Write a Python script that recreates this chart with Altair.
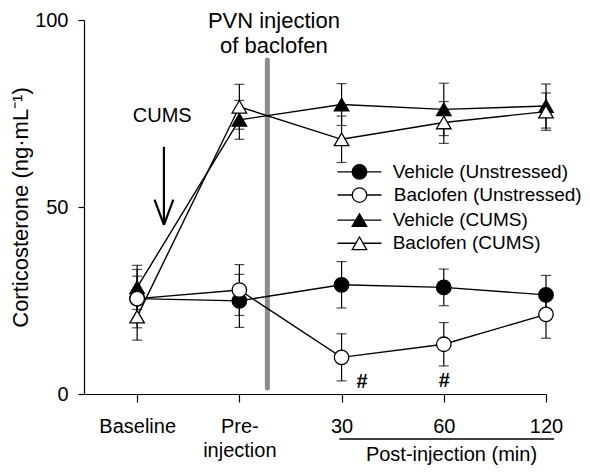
import altair as alt
import pandas as pd

# ---------------- data ----------------
series_names = ["Vehicle (Unstressed)", "Baclofen (Unstressed)", "Vehicle (CUMS)", "Baclofen (CUMS)"]
legend_labels = ["Vehicle (Unstressed)", "Baclofen (Unstressed)", "Vehicle (CUMS)", "Baclofen (CUMS)"]
x_labels = ["Baseline", "Pre-\ninjection", "30", "60", "120"]
time_pos = [0, 1, 2, 3, 4]

veh_un = [25.5, 24.9, 29.2, 28.5, 26.5]
veh_un_err = [6.0, 7.1, 6.2, 4.9, 5.2]
bac_un = [25.5, 27.8, 9.8, 13.3, 21.3]
bac_un_err = [7.8, 6.8, 6.3, 5.8, 6.4]
veh_cums = [28.5, 73.3, 77.4, 76.1, 77.0]
veh_cums_err = [5.9, 5.2, 5.6, 7.0, 5.9]
bac_cums = [20.7, 76.8, 68.1, 72.6, 75.5]
bac_cums_err = [6.3, 6.0, 6.2, 5.6, 5.0]

marker_shapes = ["circle", "circle", "triangle-up", "triangle-up"]
marker_fills = ["black", "white", "black", "white"]

# drawing order: filled symbols first, open symbols on top
draw_order = ["Vehicle (Unstressed)", "Vehicle (CUMS)", "Baclofen (Unstressed)", "Baclofen (CUMS)"]
values = {
    "Vehicle (Unstressed)": (veh_un, veh_un_err),
    "Baclofen (Unstressed)": (bac_un, bac_un_err),
    "Vehicle (CUMS)": (veh_cums, veh_cums_err),
    "Baclofen (CUMS)": (bac_cums, bac_cums_err),
}

rows, caps = [], []
for s in draw_order:
    ys, es = values[s]
    for t, v, e in zip(time_pos, ys, es):
        rows.append({"x": t, "y": v, "lo": v - e, "hi": v + e, "series": s})
        caps.append({"x": t, "y": v - e, "series": s})
        caps.append({"x": t, "y": v + e, "series": s})
df = pd.DataFrame(rows)
caps_df = pd.DataFrame(caps)

# legend table (drawn inside the plot)
legend_rows = [59.4, 53.2, 46.5, 40.3]
legend_df = pd.DataFrame({
    "series": series_names,
    "label": legend_labels,
    "y": legend_rows,
    "x0": [1.96] * 4,
    "x1": [2.39] * 4,
    "xm": [2.175] * 4,
    "xt": [2.50, 2.51, 2.50, 2.50],
})

# annotations
injection_line = pd.DataFrame({"x": [1.274], "y0": [1.6], "y1": [89.3]})
arrow_df = pd.DataFrame({
    "x": [0.262, 0.170, 0.354],
    "y": [66.1, 52.0, 52.0],
    "x2": [0.262, 0.262, 0.262],
    "y2": [45.2, 45.2, 45.2],
})
text_df = pd.DataFrame({
    "x": [0.245, 1.338, 1.338],
    "y": [72.7, 97.9, 91.2],
    "t": ["CUMS", "PVN injection", "of baclofen"],
    "size": [20, 22, 22],
})
hash_df = pd.DataFrame({"x": [2.20, 3.005], "y": [3.1, 3.5], "t": ["#", "#"]})
post_line = pd.DataFrame({"x": [1.978], "x2": [4.08], "y": [-12.0]})
post_text = pd.DataFrame({"x": [3.075], "y": [-17.9], "t": ["Post-injection (min)"]})

# ---------------- scales & axes ----------------
FONT = "Liberation Sans"


def label_literal(lab):
    parts = lab.split("\n")
    if len(parts) == 1:
        return "'" + parts[0] + "'"
    return "[" + ",".join("'" + p + "'" for p in parts) + "]"


label_expr = label_literal(x_labels[-1])
for pos, lab in reversed(list(zip(time_pos[:-1], x_labels[:-1]))):
    label_expr = f"datum.value == {pos} ? {label_literal(lab)} : ({label_expr})"

xs = alt.Scale(domain=[-0.52, 4], nice=False, zero=False)
ys = alt.Scale(domain=[0, 100], nice=False, zero=False)

xaxis = alt.Axis(values=time_pos, labelExpr=label_expr, title=None, grid=False,
                 tickSize=8, tickWidth=1.2, domainWidth=1.2, labelPadding=14,
                 labelFontSize=20, labelLineHeight=24, labelFont=FONT,
                 labelColor="black", tickColor="black", domainColor="black",
                 labelOverlap=False, labelFlush=False)
yaxis = alt.Axis(values=[0, 50, 100], title="Corticosterone (ng·mL⁻¹)", grid=False,
                 tickSize=6, tickWidth=1.2, domainWidth=1.2, labelPadding=10,
                 labelFontSize=20, labelFont=FONT, labelColor="black",
                 tickColor="black", domainColor="black", labelFlush=False,
                 titleFont=FONT, titleFontSize=22, titleFontWeight="normal",
                 titleColor="black", titlePadding=2)


def X(f):
    return alt.X(f"{f}:Q", scale=xs, axis=xaxis)


def Y(f):
    return alt.Y(f"{f}:Q", scale=ys, axis=yaxis)


shape_enc = alt.Shape("series:N", scale=alt.Scale(domain=series_names, range=marker_shapes), legend=None)
fill_enc = alt.Fill("series:N", scale=alt.Scale(domain=series_names, range=marker_fills), legend=None)

# ---------------- layers ----------------
lines = alt.Chart(df).mark_line(color="black", strokeWidth=1.4).encode(
    x=X("x"), y=Y("y"), detail="series:N")

err = alt.Chart(df).mark_rule(color="black", strokeWidth=1.2).encode(
    x=X("x"), y=Y("lo"), y2="hi:Q")

err_caps = alt.Chart(caps_df).mark_tick(color="black", orient="horizontal", size=10, thickness=1.2).encode(
    x=X("x"), y=Y("y"))

points = alt.Chart(df).mark_point(filled=True, stroke="black", strokeWidth=1.3, size=210, opacity=1).encode(
    x=X("x"), y=Y("y"), shape=shape_enc, fill=fill_enc)

inj = alt.Chart(injection_line).mark_rule(color="#8c8c8c", strokeWidth=5, strokeCap="round").encode(
    x=X("x"), y=Y("y0"), y2="y1:Q")

arrow = alt.Chart(arrow_df).mark_rule(color="black", strokeWidth=2.2).encode(
    x=X("x"), y=Y("y"), x2="x2:Q", y2="y2:Q")

texts = alt.Chart(text_df).mark_text(font=FONT, color="black", align="center", baseline="alphabetic").encode(
    x=X("x"), y=Y("y"), text="t:N", size=alt.Size("size:Q", scale=None, legend=None))

hashes = alt.Chart(hash_df).mark_text(font=FONT, fontSize=20, fontWeight="bold", color="black",
                                      align="center", baseline="middle").encode(
    x=X("x"), y=Y("y"), text="t:N")

post_rule = alt.Chart(post_line).mark_rule(color="black", strokeWidth=1.5).encode(
    x=X("x"), x2="x2:Q", y=Y("y"))

post_lab = alt.Chart(post_text).mark_text(font=FONT, fontSize=20, color="black", align="center",
                                          baseline="alphabetic").encode(
    x=X("x"), y=Y("y"), text="t:N")

leg_lines = alt.Chart(legend_df).mark_rule(color="black", strokeWidth=1.4).encode(
    x=X("x0"), x2="x1:Q", y=Y("y"))
leg_points = alt.Chart(legend_df).mark_point(filled=True, stroke="black", strokeWidth=1.3, size=210, opacity=1).encode(
    x=X("xm"), y=Y("y"), shape=shape_enc, fill=fill_enc)
leg_text = alt.Chart(legend_df).mark_text(font=FONT, fontSize=19, color="black", align="left",
                                          baseline="middle").encode(
    x=X("xt"), y=Y("y"), text="label:N")

chart = alt.layer(
    inj, lines, err, err_caps, points, arrow, texts, hashes, post_rule, post_lab,
    leg_lines, leg_points, leg_text
).properties(
    width=462, height=374,
    autosize=alt.AutoSizeParams(type="none"),
    padding={"left": 76, "top": 12, "right": 36, "bottom": 71},
).configure_view(stroke=None)

chart.save("out.html", embed_options={"renderer": "svg", "actions": False})
